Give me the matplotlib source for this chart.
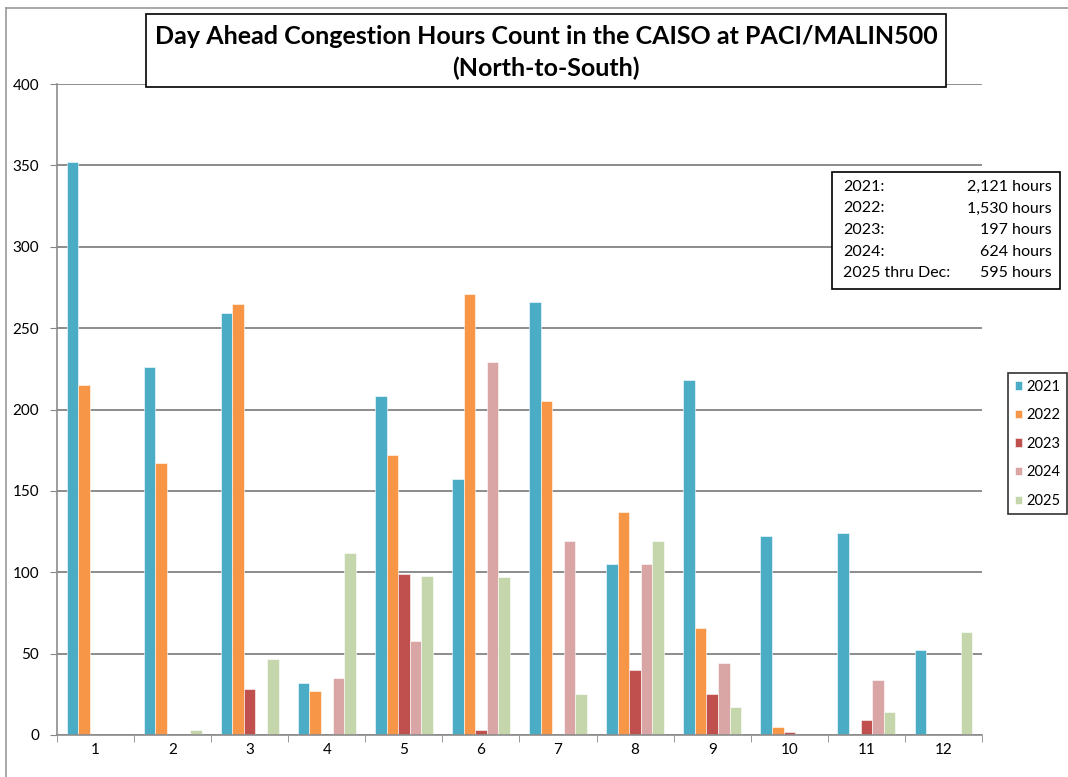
import numpy as np
import matplotlib.pyplot as plt
from matplotlib.patches import Rectangle
from matplotlib.lines import Line2D

plt.rcParams['font.family'] = ['Lato', 'DejaVu Sans']

months = [str(m) for m in range(1, 13)]
years = ['2021', '2022', '2023', '2024', '2025']
hours_2021 = [352, 226, 259, 32, 208, 157, 266, 105, 218, 122, 124, 52]
hours_2022 = [215, 167, 265, 27, 172, 271, 205, 137, 66, 5, 0, 0]
hours_2023 = [0, 0, 28, 0, 99, 3, 0, 40, 25, 2, 9, 0]
hours_2024 = [0, 0, 0, 35, 58, 229, 119, 105, 44, 0, 34, 0]
hours_2025 = [0, 3, 47, 112, 98, 97, 25, 119, 17, 0, 14, 63]
colors = ['#4BACC6', '#F79646', '#C0504D', '#D9A6A5', '#C6D6AC']

totals_labels = ['2021:', '2022:', '2023:', '2024:', '2025 thru Dec:']
totals_values = ['2,121 hours', '1,530 hours', '197 hours', '624 hours', '595 hours']

series = [hours_2021, hours_2022, hours_2023, hours_2024, hours_2025]

fig = plt.figure(figsize=(10.68, 7.77), dpi=100)
ax = fig.add_axes([57/1068, 42/777, 925/1068, 651/777])

x = np.arange(1, 13)
w = 0.15
for i, (vals, yr) in enumerate(zip(series, years)):
    ax.bar(x + (i - 2) * w, vals, width=w, color=colors[i], label=yr,
           edgecolor='white', linewidth=0.4)

ax.set_xlim(0.5, 12.5)
ax.set_ylim(0, 400)
ax.set_yticks(range(0, 401, 50))
ax.set_xticks(x)
ax.set_xticklabels(months)
ax.set_xticks(np.arange(0.5, 12.6, 1), minor=True)
ax.tick_params(axis='x', which='major', length=0, labelsize=11, pad=6)
ax.tick_params(axis='x', which='minor', length=5, color='#888888', direction='out')
ax.tick_params(axis='y', length=5, color='#888888', labelsize=11, pad=8)
ax.grid(axis='y', color='#8C8C8C', linewidth=1.4)
ax.set_axisbelow(True)
for s in ['top', 'right']:
    ax.spines[s].set_visible(False)
for s in ['left', 'bottom']:
    ax.spines[s].set_color('#8C8C8C')
    ax.spines[s].set_linewidth(1.2)

# outer chart border (top and left edges)
fig.add_artist(Line2D([6/1068, 1], [1 - 8/777, 1 - 8/777], color='#999999', lw=1.2))
fig.add_artist(Line2D([6/1068, 6/1068], [0, 1 - 8/777], color='#999999', lw=1.2))

# title box
fig.add_artist(Rectangle((146/1068, 1 - 87/777), 800/1068, 73/777, facecolor='white',
                         edgecolor='black', lw=1.2))
fig.text(546/1068, 1 - 36/777, 'Day Ahead Congestion Hours Count in the CAISO at PACI/MALIN500',
         ha='center', va='center', fontsize=18, fontweight='bold')
fig.text(546/1068, 1 - 68/777, '(North-to-South)',
         ha='center', va='center', fontsize=18, fontweight='bold')

# totals box
fig.add_artist(Rectangle((832/1068, 1 - 289/777), 228/1068, 117/777, facecolor='white',
                         edgecolor='black', lw=1.2))
for i, (lab, val) in enumerate(zip(totals_labels, totals_values)):
    yy = 1 - (187 + i * 21.5) / 777
    fig.text(843/1068, yy, lab, ha='left', va='center', fontsize=11.5)
    fig.text(1052/1068, yy, val, ha='right', va='center', fontsize=11.5)

leg = ax.legend(loc='upper left', bbox_to_anchor=(1008/1068, 1 - 373/777),
                bbox_transform=fig.transFigure, frameon=True, fancybox=False,
                fontsize=10.5, handlelength=0.5, handleheight=0.5, labelspacing=1.0,
                handletextpad=0.3, borderpad=0.45, borderaxespad=0)
leg.get_frame().set_edgecolor('black')
leg.get_frame().set_linewidth(1.2)

plt.savefig('out.png', dpi=100)
